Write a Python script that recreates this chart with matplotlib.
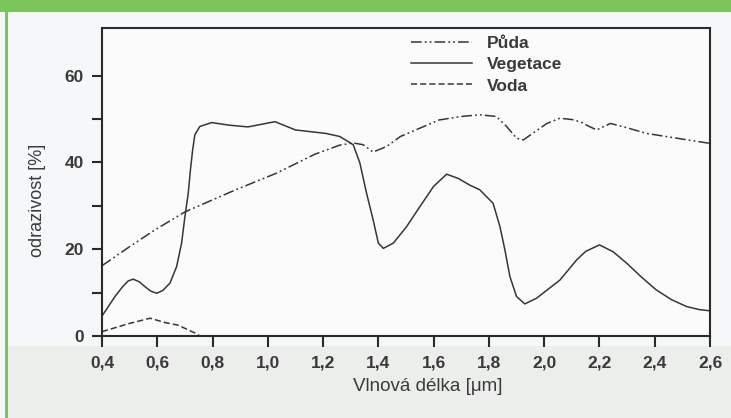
import matplotlib
matplotlib.use("Agg")
import matplotlib.pyplot as plt
from matplotlib.patches import Rectangle

# data (vlnova delka v um, odrazivost v %)
puda_x = [0.40, 0.50, 0.59, 0.70, 0.88, 1.03, 1.17, 1.26, 1.309, 1.345, 1.381, 1.43, 1.48, 1.55,
          1.62, 1.70, 1.767, 1.827, 1.864, 1.90, 1.925, 1.96, 2.01, 2.057, 2.10, 2.13, 2.16,
          2.19, 2.24, 2.30, 2.37, 2.44, 2.52, 2.60]
puda_y = [16.2, 20.6, 24.4, 28.6, 33.6, 37.5, 41.9, 44.0, 44.5, 44.1, 42.4, 43.7, 46.0, 47.9,
          49.8, 50.6, 51.0, 50.6, 48.3, 45.6, 45.2, 46.8, 49.0, 50.2, 49.9, 49.4, 48.4,
          47.5, 49.0, 48.0, 46.7, 46.0, 45.2, 44.4]

veg_x = [0.40, 0.447, 0.475, 0.495, 0.513, 0.535, 0.555, 0.575, 0.598, 0.620, 0.646, 0.670,
         0.688, 0.700, 0.712, 0.720, 0.728, 0.736, 0.754, 0.797, 0.86, 0.928, 1.026, 1.10,
         1.21, 1.26, 1.309, 1.333, 1.357, 1.381, 1.400, 1.418, 1.454, 1.502, 1.55, 1.60,
         1.647, 1.69, 1.73, 1.767, 1.815, 1.840, 1.858, 1.876, 1.900, 1.930, 1.972, 2.057,
         2.117, 2.15, 2.20, 2.25, 2.30, 2.35, 2.406, 2.46, 2.515, 2.56, 2.60]
veg_y = [4.6, 9.1, 11.4, 12.7, 13.1, 12.5, 11.4, 10.4, 9.85, 10.5, 12.2, 16.0,
         21.4, 27.5, 32.9, 38.3, 42.9, 46.4, 48.3, 49.2, 48.6, 48.2, 49.4, 47.5,
         46.7, 46.0, 44.1, 39.9, 33.0, 26.8, 21.4, 20.2, 21.4, 25.2, 29.8, 34.5,
         37.3, 36.3, 34.8, 33.7, 30.6, 25.2, 19.8, 13.7, 9.1, 7.4, 8.7, 12.9,
         17.5, 19.5, 21.0, 19.4, 16.7, 13.7, 10.6, 8.4, 6.8, 6.1, 5.8]

voda_x = [0.40, 0.494, 0.574, 0.628, 0.675, 0.736, 0.755]
voda_y = [1.0, 2.8, 4.1, 3.1, 2.5, 0.7, 0.0]

xticks = [0.4, 0.6, 0.8, 1.0, 1.2, 1.4, 1.6, 1.8, 2.0, 2.2, 2.4, 2.6]
xlabels = ["0,4", "0,6", "0,8", "1,0", "1,2", "1,4", "1,6", "1,8", "2,0", "2,2", "2,4", "2,6"]
yticks = [0, 20, 40, 60]

plt.rcParams["font.family"] = ["Liberation Sans", "DejaVu Sans"]

fig = plt.figure(figsize=(7.31, 4.18), dpi=100)
fig.patch.set_facecolor("#f6f7f9")

# zelena lista nahore a proužek vlevo (jako v tištěné předloze)
fig.add_artist(Rectangle((0, 1 - 12 / 418), 1, 12 / 418, transform=fig.transFigure,
                         color="#7cc45c", lw=0, zorder=0))
fig.add_artist(Rectangle((5 / 731, 0), 3 / 731, 1 - 12 / 418, transform=fig.transFigure,
                         color="#7cc45c", lw=0, zorder=0))
fig.add_artist(Rectangle((8 / 731, 0), 1 - 8 / 731, 72 / 418, transform=fig.transFigure,
                         color="#eceeec", lw=0, zorder=0))

ax = fig.add_axes([102 / 731, (418 - 336) / 418, 608 / 731, 308 / 418])
ax.set_facecolor("#fbfbfc")

col = "#3a3532"
ax.plot(puda_x, puda_y, color=col, lw=1.1, ls=(0, (7, 2, 1.2, 2, 1.2, 2)), label="Půda")
ax.plot(veg_x, veg_y, color=col, lw=1.1, ls="-", label="Vegetace")
ax.plot(voda_x, voda_y, color=col, lw=1.1, ls=(0, (4, 2)), label="Voda")

ax.set_xlim(0.4, 2.6)
ax.set_ylim(0, 71)
ax.set_xticks(xticks)
ax.set_xticklabels(xlabels)
ax.set_yticks(yticks)
ax.set_yticks([10, 30, 50], minor=True)

for s in ax.spines.values():
    s.set_color("#2a2a2a")
    s.set_linewidth(1.5)

ax.tick_params(axis="both", which="both", direction="out", color="#2a2a2a", width=1.5,
               labelcolor="#3a3a3a")
ax.tick_params(axis="x", length=8, pad=6)
ax.tick_params(axis="y", which="both", length=7, pad=6)
for lab in ax.get_xticklabels() + ax.get_yticklabels():
    lab.set_fontweight("bold")
    lab.set_fontsize(12.5)

ax.set_xlabel("Vlnová délka [μm]", fontsize=13.5, color="#3a3a3a")
ax.xaxis.set_label_coords(0.536, -0.135)
ax.set_ylabel("odrazivost [%]", fontsize=13, color="#3a3a3a")
ax.yaxis.set_label_coords(-0.092, 0.44)

leg = ax.legend(loc="upper left", bbox_to_anchor=(0.505, 0.98), frameon=False,
                borderpad=0.1, borderaxespad=0, handlelength=3.5, handletextpad=0.9,
                labelspacing=0.35, prop={"weight": "bold", "size": 12.5})
for t in leg.get_texts():
    t.set_color("#3a3a3a")

fig.savefig("out.png", dpi=100, facecolor=fig.get_facecolor())
